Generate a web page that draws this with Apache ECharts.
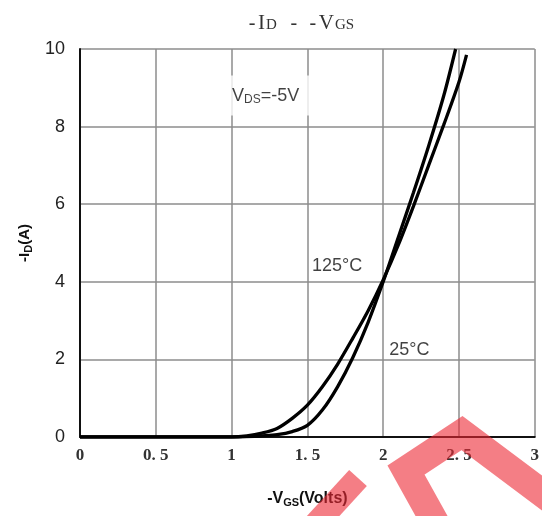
<!DOCTYPE html>
<html>
<head>
<meta charset="utf-8">
<script src="https://cdn.jsdelivr.net/npm/echarts@6/dist/echarts.min.js"></script>
<style>
  html, body { margin: 0; padding: 0; background: #fff; }
  #main { width: 542px; height: 516px; }
</style>
</head>
<body>
<div id="main"></div>
<script>
// -VGS (V) / -ID (A)
var vgs25 = [0, 1.0, 1.1, 1.2, 1.3, 1.4, 1.5, 1.6, 1.7, 1.8, 1.9, 2.0, 2.1, 2.2, 2.3, 2.4, 2.478];
var id25 = [0, 0, 0.01, 0.03, 0.06, 0.14, 0.3, 0.7, 1.3, 2.05, 2.95, 4.0, 5.15, 6.3, 7.5, 8.8, 10];

var vgs125 = [0, 1.0, 1.1, 1.2, 1.3, 1.4, 1.5, 1.6, 1.7, 1.8, 1.9, 2.0, 2.1, 2.2, 2.3, 2.4, 2.5, 2.55];
var id125 = [0, 0, 0.03, 0.1, 0.22, 0.48, 0.82, 1.3, 1.88, 2.55, 3.25, 4.05, 4.95, 5.95, 7.0, 8.05, 9.15, 9.85];

var xTicks = [0, 0.5, 1, 1.5, 2, 2.5, 3];
var yTicks = [0, 2, 4, 6, 8, 10];

// notes on the plot: text key, x, y
var notes = [
  ['vds', 0.99, 8.8],
  ['t125', 1.53, 4.4],
  ['t25', 2.04, 2.25]
];

function pairs(xs, ys) {
  var out = [];
  for (var i = 0; i < xs.length; i++) out.push([xs[i], ys[i]]);
  return out;
}

var chart = echarts.init(document.getElementById('main'));

var noteText = {
  vds: '{n|V}{s|DS}{n|=-5V}',
  t125: '{n|125°C}',
  t25: '{n|25°C}'
};

var serif = 'Liberation Serif';
var sans = 'Liberation Sans';

var option = {
  animation: false,
  backgroundColor: '#fff',
  title: {
    text: '{h|-}{b|I}{m|D}{sp|}{h|-}{sp2|}{h|-}{b|V}{m|GS}',
    left: 241,
    top: 8,
    textStyle: {
      fontWeight: 'normal',
      rich: {
        h: { fontFamily: serif, fontWeight: 'normal', fontSize: 20, width: 12, align: 'center', color: '#333' },
        b: { fontFamily: serif, fontWeight: 'normal', fontSize: 21, color: '#333' },
        m: { fontFamily: serif, fontWeight: 'normal', fontSize: 15, color: '#333', padding: [4, 0, 0, 1] },
        sp: { width: 11 },
        sp2: { width: 7 }
      }
    }
  },
  grid: { left: 80, right: 4, top: 49, bottom: 79 },
  xAxis: {
    type: 'value',
    min: 0, max: 3, interval: 0.5,
    name: '{b|-V}{s|GS}{b|(Volts)}',
    nameLocation: 'middle',
    nameGap: 52,
    nameTextStyle: {
      rich: {
        b: { fontFamily: sans, fontWeight: 'bold', fontSize: 16, color: '#111' },
        s: { fontFamily: sans, fontWeight: 'bold', fontSize: 11, color: '#111', verticalAlign: 'bottom', padding: [8, 0, 0, 0] }
      }
    },
    axisLine: { show: true, onZero: false, lineStyle: { color: '#111', width: 2 } },
    axisTick: { show: false },
    axisLabel: {
      margin: 10,
      fontFamily: serif,
      fontWeight: 'bold',
      fontSize: 17,
      color: '#333',
      formatter: function (v) {
        return xTicks.indexOf(v) >= 0 ? String(v).replace('.', '. ') : '';
      }
    },
    splitLine: { show: true, lineStyle: { color: '#8c8c8c', width: 1.5 } }
  },
  yAxis: {
    type: 'value',
    min: 0, max: 10, interval: 2,
    name: '{b|-I}{s|D}{b|(A)}',
    nameLocation: 'middle',
    nameGap: 42,
    nameRotate: 90,
    nameTextStyle: {
      rich: {
        b: { fontFamily: sans, fontWeight: 'bold', fontSize: 15, color: '#111' },
        s: { fontFamily: sans, fontWeight: 'bold', fontSize: 11, color: '#111', verticalAlign: 'bottom', padding: [7, 0, 0, 0] }
      }
    },
    axisLine: { show: true, onZero: false, lineStyle: { color: '#111', width: 2 } },
    axisTick: { show: false },
    axisLabel: {
      margin: 15,
      fontFamily: sans,
      fontSize: 18,
      color: '#222',
      formatter: function (v) { return yTicks.indexOf(v) >= 0 ? String(v) : ''; }
    },
    splitLine: { show: true, lineStyle: { color: '#8c8c8c', width: 1.5 } }
  },
  series: [
    {
      name: '25°C',
      type: 'line',
      data: pairs(vgs25, id25),
      smooth: 0.3,
      showSymbol: false,
      lineStyle: { color: '#000', width: 3.3 },
      z: 5
    },
    {
      name: '125°C',
      type: 'line',
      data: pairs(vgs125, id125),
      smooth: 0.3,
      showSymbol: false,
      lineStyle: { color: '#000', width: 3.3 },
      z: 5
    },
    {
      name: 'notes',
      type: 'scatter',
      symbolSize: 0,
      data: notes.map(function (n, i) {
        var d = { value: [n[1], n[2]], key: n[0] };
        if (i === 0) d.label = { backgroundColor: '#fff', padding: [10, 16, 10, 2] };
        return d;
      }),
      label: {
        show: true,
        position: 'right',
        distance: 0,
        formatter: function (p) { return noteText[p.data.key]; },
        rich: {
          n: { fontFamily: sans, fontSize: 18, color: '#111' },
          s: { fontFamily: sans, fontSize: 12, color: '#111', verticalAlign: 'bottom', padding: [8, 0, 0, 0] }
        }
      },
      z: 6
    }
  ],
  // red watermark over the corner of the scan
  graphic: [
    {
      type: 'polyline',
      silent: true,
      z: 100,
      shape: { points: [[446, 542], [406, 470], [462, 433], [562, 508]] },
      style: { stroke: 'rgba(236,40,52,0.6)', lineWidth: 28, fill: null, lineJoin: 'miter' }
    },
    {
      type: 'polyline',
      silent: true,
      z: 100,
      shape: { points: [[314, 526], [358, 478]] },
      style: { stroke: 'rgba(236,40,52,0.6)', lineWidth: 24, fill: null, lineCap: 'butt' }
    }
  ]
};

chart.setOption(option);
</script>
</body>
</html>
